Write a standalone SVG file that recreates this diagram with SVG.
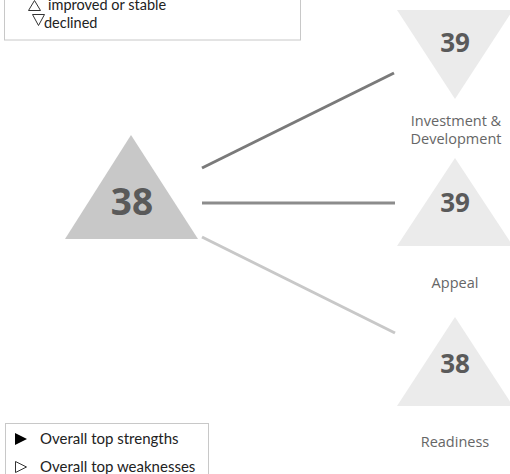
<svg xmlns="http://www.w3.org/2000/svg" width="510" height="474" viewBox="0 0 510 474">
<style>
.legend{font-family:Lato,"Liberation Sans",sans-serif;font-size:15px;fill:#222}
.legtop{font-family:Lato,"Liberation Sans",sans-serif;font-size:14.5px;fill:#222}
.num{font-family:"Open Sans","DejaVu Sans",sans-serif;font-weight:bold;fill:#5a5a5a;text-anchor:middle}
.lbl{font-family:"Open Sans","DejaVu Sans",sans-serif;font-size:14.5px;fill:#666;text-anchor:middle}
.box{fill:#fff;stroke:#c8c8c8;stroke-width:1}
.sym{fill:none;stroke:#333;stroke-width:1}
</style>
<rect width="510" height="474" fill="#fff"/>
<g id="legend-top">
<rect class="box" x="4.5" y="-5" width="296" height="45"/>
<polygon class="sym" points="28.5,10.5 40.5,10.5 34.5,0.5"/>
<text class="legtop" x="48" y="10">improved or stable</text>
<polygon class="sym" points="32.5,14.5 44.5,14.5 38.5,25.5"/>
<text class="legtop" x="44" y="28">declined</text>
</g>
<g id="connectors">
<line x1="202" y1="168" x2="394" y2="73" stroke="#7a7a7a" stroke-width="3"/>
<line x1="202" y1="203" x2="395" y2="203" stroke="#8c8c8c" stroke-width="3"/>
<line x1="202" y1="237" x2="395" y2="333" stroke="#c8c8c8" stroke-width="3"/>
</g>
<g id="overall">
<polygon points="131,135 198,239 65,239" fill="#c8c8c8"/>
<text class="num" x="132" y="215" font-size="37">38</text>
</g>
<g id="investment">
<polygon points="397,10 513,10 455,99" fill="#ebebeb"/>
<text class="num" x="455" y="52" font-size="26">39</text>
<text class="lbl" x="456" y="126">Investment &amp;</text>
<text class="lbl" x="456" y="144">Development</text>
</g>
<g id="appeal">
<polygon points="455,158 513,246 397,246" fill="#ebebeb"/>
<text class="num" x="455" y="212" font-size="26">39</text>
<text class="lbl" x="455" y="288">Appeal</text>
</g>
<g id="readiness">
<polygon points="455,317 513,406 397,406" fill="#ebebeb"/>
<text class="num" x="455" y="373" font-size="26">38</text>
<text class="lbl" x="455" y="447">Readiness</text>
</g>
<g id="legend-bottom">
<rect class="box" x="5.5" y="423.5" width="203" height="60"/>
<polygon points="15,433 27,439 15,445" fill="#000"/>
<text class="legend" x="40" y="444">Overall top strengths</text>
<polygon points="15.5,461.5 26.5,467 15.5,472.5" fill="none" stroke="#333" stroke-width="1"/>
<text class="legend" x="40" y="472">Overall top weaknesses</text>
</g>
</svg>
